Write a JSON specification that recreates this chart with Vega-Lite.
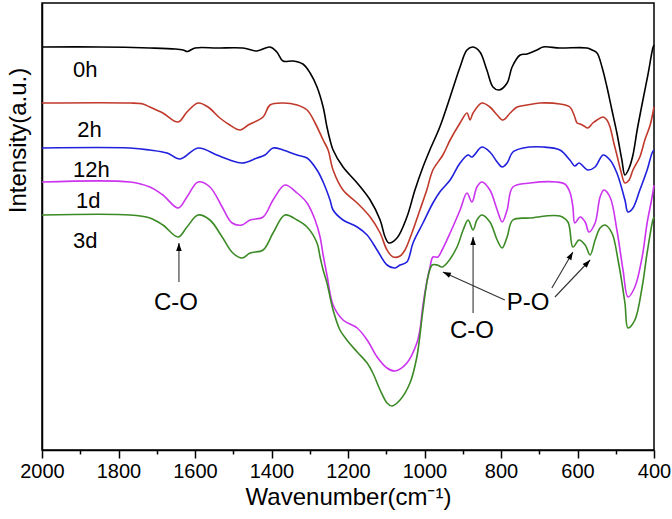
{
  "$schema": "https://vega.github.io/schema/vega-lite/v6.json",
  "width": 612,
  "height": 447,
  "autosize": {"type": "none"},
  "padding": {"left": 42, "right": 18, "top": 3, "bottom": 69},
  "background": "white",
  "config": {
    "font": "Liberation Sans",
    "view": {"stroke": "#000", "strokeWidth": 1.5},
    "axis": {"domainColor": "#000", "domainWidth": 1.5, "tickColor": "#000", "tickWidth": 1.5, "labelColor": "#000", "titleColor": "#000", "labelFont": "Liberation Sans", "titleFont": "Liberation Sans", "grid": false, "titleFontWeight": "normal"}
  },
  "datasets": {
    "spectra": [
      {"s":"0h","wn":2000,"y":403},{"s":"0h","wn":1848,"y":403},{"s":"0h","wn":1718,"y":402},{"s":"0h","wn":1652,"y":401},{"s":"0h","wn":1631,"y":400},{"s":"0h","wn":1620,"y":398.5},{"s":"0h","wn":1600,"y":402},{"s":"0h","wn":1542,"y":402},{"s":"0h","wn":1475,"y":402},{"s":"0h","wn":1438,"y":399},{"s":"0h","wn":1404,"y":403},{"s":"0h","wn":1386,"y":398},{"s":"0h","wn":1370,"y":389},{"s":"0h","wn":1344,"y":389},{"s":"0h","wn":1318,"y":386},{"s":"0h","wn":1299,"y":377},{"s":"0h","wn":1281,"y":363},{"s":"0h","wn":1265,"y":343},{"s":"0h","wn":1255,"y":323},{"s":"0h","wn":1247,"y":310},{"s":"0h","wn":1239,"y":300},{"s":"0h","wn":1213,"y":283},{"s":"0h","wn":1176,"y":267},{"s":"0h","wn":1142,"y":250},{"s":"0h","wn":1116,"y":230},{"s":"0h","wn":1103,"y":213},{"s":"0h","wn":1093,"y":207},{"s":"0h","wn":1072,"y":212},{"s":"0h","wn":1046,"y":233},{"s":"0h","wn":1025,"y":260},{"s":"0h","wn":1004,"y":283},{"s":"0h","wn":986,"y":300},{"s":"0h","wn":960,"y":323},{"s":"0h","wn":933,"y":353},{"s":"0h","wn":907,"y":383},{"s":"0h","wn":889,"y":400},{"s":"0h","wn":873,"y":403},{"s":"0h","wn":855,"y":398},{"s":"0h","wn":837,"y":380},{"s":"0h","wn":821,"y":363},{"s":"0h","wn":805,"y":360},{"s":"0h","wn":784,"y":367},{"s":"0h","wn":771,"y":383},{"s":"0h","wn":750,"y":395},{"s":"0h","wn":732,"y":396},{"s":"0h","wn":706,"y":400},{"s":"0h","wn":690,"y":403},{"s":"0h","wn":646,"y":402},{"s":"0h","wn":575,"y":402},{"s":"0h","wn":562,"y":400},{"s":"0h","wn":549,"y":397},{"s":"0h","wn":536,"y":383},{"s":"0h","wn":523,"y":363},{"s":"0h","wn":510,"y":340},{"s":"0h","wn":497,"y":317},{"s":"0h","wn":484,"y":290},{"s":"0h","wn":476,"y":275},{"s":"0h","wn":465,"y":282},{"s":"0h","wn":455,"y":295},{"s":"0h","wn":444,"y":320},{"s":"0h","wn":429,"y":350},{"s":"0h","wn":416,"y":375},{"s":"0h","wn":403,"y":402},{"s":"0h","wn":400,"y":405},
      {"s":"2h","wn":2000,"y":347},{"s":"2h","wn":1770,"y":347},{"s":"2h","wn":1736,"y":346},{"s":"2h","wn":1718,"y":343},{"s":"2h","wn":1684,"y":337},{"s":"2h","wn":1644,"y":328},{"s":"2h","wn":1621,"y":338},{"s":"2h","wn":1592,"y":347},{"s":"2h","wn":1566,"y":343},{"s":"2h","wn":1535,"y":332},{"s":"2h","wn":1509,"y":325},{"s":"2h","wn":1482,"y":320},{"s":"2h","wn":1461,"y":325},{"s":"2h","wn":1422,"y":333},{"s":"2h","wn":1404,"y":345},{"s":"2h","wn":1370,"y":347},{"s":"2h","wn":1333,"y":345},{"s":"2h","wn":1307,"y":340},{"s":"2h","wn":1286,"y":327},{"s":"2h","wn":1265,"y":310},{"s":"2h","wn":1252,"y":300},{"s":"2h","wn":1239,"y":280},{"s":"2h","wn":1213,"y":260},{"s":"2h","wn":1176,"y":247},{"s":"2h","wn":1142,"y":233},{"s":"2h","wn":1116,"y":217},{"s":"2h","wn":1098,"y":200},{"s":"2h","wn":1082,"y":193},{"s":"2h","wn":1064,"y":194},{"s":"2h","wn":1051,"y":200},{"s":"2h","wn":1033,"y":217},{"s":"2h","wn":1012,"y":240},{"s":"2h","wn":994,"y":260},{"s":"2h","wn":978,"y":280},{"s":"2h","wn":952,"y":295},{"s":"2h","wn":933,"y":310},{"s":"2h","wn":907,"y":327},{"s":"2h","wn":889,"y":337},{"s":"2h","wn":881,"y":330},{"s":"2h","wn":873,"y":337},{"s":"2h","wn":850,"y":347},{"s":"2h","wn":829,"y":343},{"s":"2h","wn":810,"y":335},{"s":"2h","wn":795,"y":330},{"s":"2h","wn":776,"y":337},{"s":"2h","wn":758,"y":343},{"s":"2h","wn":732,"y":345},{"s":"2h","wn":698,"y":347},{"s":"2h","wn":646,"y":346},{"s":"2h","wn":620,"y":343},{"s":"2h","wn":609,"y":335},{"s":"2h","wn":601,"y":327},{"s":"2h","wn":593,"y":326},{"s":"2h","wn":583,"y":324},{"s":"2h","wn":573,"y":322},{"s":"2h","wn":560,"y":327},{"s":"2h","wn":549,"y":330},{"s":"2h","wn":533,"y":333},{"s":"2h","wn":523,"y":330},{"s":"2h","wn":515,"y":323},{"s":"2h","wn":505,"y":307},{"s":"2h","wn":497,"y":295},{"s":"2h","wn":486,"y":278},{"s":"2h","wn":476,"y":267},{"s":"2h","wn":465,"y":270},{"s":"2h","wn":455,"y":280},{"s":"2h","wn":437,"y":293},{"s":"2h","wn":424,"y":310},{"s":"2h","wn":410,"y":325},{"s":"2h","wn":400,"y":343},
      {"s":"12h","wn":2000,"y":302},{"s":"12h","wn":1770,"y":302},{"s":"12h","wn":1718,"y":300},{"s":"12h","wn":1673,"y":297},{"s":"12h","wn":1639,"y":291},{"s":"12h","wn":1592,"y":302},{"s":"12h","wn":1543,"y":295},{"s":"12h","wn":1509,"y":290},{"s":"12h","wn":1477,"y":287},{"s":"12h","wn":1438,"y":292},{"s":"12h","wn":1417,"y":295},{"s":"12h","wn":1396,"y":302},{"s":"12h","wn":1370,"y":300},{"s":"12h","wn":1333,"y":295},{"s":"12h","wn":1307,"y":292},{"s":"12h","wn":1281,"y":280},{"s":"12h","wn":1265,"y":268},{"s":"12h","wn":1247,"y":250},{"s":"12h","wn":1239,"y":240},{"s":"12h","wn":1213,"y":230},{"s":"12h","wn":1176,"y":223},{"s":"12h","wn":1150,"y":215},{"s":"12h","wn":1124,"y":200},{"s":"12h","wn":1098,"y":185},{"s":"12h","wn":1077,"y":182},{"s":"12h","wn":1064,"y":185},{"s":"12h","wn":1046,"y":188},{"s":"12h","wn":1030,"y":207},{"s":"12h","wn":1004,"y":227},{"s":"12h","wn":978,"y":247},{"s":"12h","wn":960,"y":258},{"s":"12h","wn":933,"y":270},{"s":"12h","wn":907,"y":287},{"s":"12h","wn":886,"y":295},{"s":"12h","wn":876,"y":293},{"s":"12h","wn":850,"y":303},{"s":"12h","wn":829,"y":298},{"s":"12h","wn":810,"y":288},{"s":"12h","wn":797,"y":283},{"s":"12h","wn":784,"y":287},{"s":"12h","wn":769,"y":298},{"s":"12h","wn":742,"y":302},{"s":"12h","wn":690,"y":303},{"s":"12h","wn":646,"y":300},{"s":"12h","wn":620,"y":290},{"s":"12h","wn":607,"y":284},{"s":"12h","wn":596,"y":287},{"s":"12h","wn":573,"y":280},{"s":"12h","wn":554,"y":283},{"s":"12h","wn":533,"y":295},{"s":"12h","wn":515,"y":290},{"s":"12h","wn":497,"y":277},{"s":"12h","wn":476,"y":250},{"s":"12h","wn":468,"y":238},{"s":"12h","wn":455,"y":242},{"s":"12h","wn":437,"y":260},{"s":"12h","wn":418,"y":280},{"s":"12h","wn":405,"y":297},{"s":"12h","wn":400,"y":300},
      {"s":"1d","wn":2000,"y":268},{"s":"1d","wn":1770,"y":268},{"s":"1d","wn":1718,"y":263},{"s":"1d","wn":1684,"y":255},{"s":"1d","wn":1644,"y":242},{"s":"1d","wn":1621,"y":253},{"s":"1d","wn":1592,"y":268},{"s":"1d","wn":1561,"y":263},{"s":"1d","wn":1529,"y":243},{"s":"1d","wn":1503,"y":227},{"s":"1d","wn":1477,"y":225},{"s":"1d","wn":1456,"y":230},{"s":"1d","wn":1422,"y":233},{"s":"1d","wn":1396,"y":250},{"s":"1d","wn":1365,"y":265},{"s":"1d","wn":1333,"y":257},{"s":"1d","wn":1307,"y":247},{"s":"1d","wn":1286,"y":230},{"s":"1d","wn":1273,"y":213},{"s":"1d","wn":1265,"y":195},{"s":"1d","wn":1255,"y":175},{"s":"1d","wn":1239,"y":145},{"s":"1d","wn":1213,"y":130},{"s":"1d","wn":1176,"y":122},{"s":"1d","wn":1150,"y":110},{"s":"1d","wn":1124,"y":93},{"s":"1d","wn":1098,"y":82},{"s":"1d","wn":1077,"y":79},{"s":"1d","wn":1046,"y":87},{"s":"1d","wn":1020,"y":107},{"s":"1d","wn":1012,"y":120},{"s":"1d","wn":1004,"y":145},{"s":"1d","wn":993,"y":170},{"s":"1d","wn":986,"y":182},{"s":"1d","wn":978,"y":193},{"s":"1d","wn":965,"y":193},{"s":"1d","wn":954,"y":200},{"s":"1d","wn":933,"y":217},{"s":"1d","wn":907,"y":240},{"s":"1d","wn":889,"y":257},{"s":"1d","wn":876,"y":248},{"s":"1d","wn":863,"y":263},{"s":"1d","wn":850,"y":268},{"s":"1d","wn":829,"y":260},{"s":"1d","wn":810,"y":240},{"s":"1d","wn":797,"y":228},{"s":"1d","wn":784,"y":240},{"s":"1d","wn":769,"y":263},{"s":"1d","wn":724,"y":267},{"s":"1d","wn":654,"y":268},{"s":"1d","wn":633,"y":266},{"s":"1d","wn":620,"y":258},{"s":"1d","wn":612,"y":243},{"s":"1d","wn":607,"y":227},{"s":"1d","wn":593,"y":233},{"s":"1d","wn":580,"y":228},{"s":"1d","wn":570,"y":218},{"s":"1d","wn":554,"y":227},{"s":"1d","wn":541,"y":253},{"s":"1d","wn":531,"y":260},{"s":"1d","wn":515,"y":253},{"s":"1d","wn":497,"y":220},{"s":"1d","wn":481,"y":180},{"s":"1d","wn":468,"y":153},{"s":"1d","wn":450,"y":163},{"s":"1d","wn":431,"y":193},{"s":"1d","wn":418,"y":227},{"s":"1d","wn":405,"y":253},{"s":"1d","wn":400,"y":265},
      {"s":"3d","wn":2000,"y":235},{"s":"3d","wn":1770,"y":235},{"s":"3d","wn":1718,"y":232},{"s":"3d","wn":1684,"y":225},{"s":"3d","wn":1644,"y":213},{"s":"3d","wn":1621,"y":223},{"s":"3d","wn":1592,"y":235},{"s":"3d","wn":1561,"y":230},{"s":"3d","wn":1529,"y":213},{"s":"3d","wn":1501,"y":197},{"s":"3d","wn":1477,"y":192},{"s":"3d","wn":1456,"y":197},{"s":"3d","wn":1422,"y":200},{"s":"3d","wn":1396,"y":217},{"s":"3d","wn":1365,"y":235},{"s":"3d","wn":1333,"y":230},{"s":"3d","wn":1307,"y":223},{"s":"3d","wn":1281,"y":207},{"s":"3d","wn":1273,"y":193},{"s":"3d","wn":1265,"y":180},{"s":"3d","wn":1255,"y":167},{"s":"3d","wn":1239,"y":140},{"s":"3d","wn":1221,"y":120},{"s":"3d","wn":1203,"y":110},{"s":"3d","wn":1176,"y":98},{"s":"3d","wn":1150,"y":87},{"s":"3d","wn":1135,"y":77},{"s":"3d","wn":1116,"y":60},{"s":"3d","wn":1098,"y":47},{"s":"3d","wn":1085,"y":44},{"s":"3d","wn":1064,"y":50},{"s":"3d","wn":1038,"y":67},{"s":"3d","wn":1020,"y":93},{"s":"3d","wn":1004,"y":140},{"s":"3d","wn":991,"y":173},{"s":"3d","wn":980,"y":185},{"s":"3d","wn":967,"y":185},{"s":"3d","wn":954,"y":183},{"s":"3d","wn":941,"y":187},{"s":"3d","wn":915,"y":203},{"s":"3d","wn":899,"y":220},{"s":"3d","wn":886,"y":230},{"s":"3d","wn":873,"y":220},{"s":"3d","wn":863,"y":230},{"s":"3d","wn":850,"y":235},{"s":"3d","wn":829,"y":228},{"s":"3d","wn":810,"y":210},{"s":"3d","wn":797,"y":202},{"s":"3d","wn":784,"y":213},{"s":"3d","wn":769,"y":230},{"s":"3d","wn":724,"y":232},{"s":"3d","wn":646,"y":234},{"s":"3d","wn":625,"y":228},{"s":"3d","wn":612,"y":203},{"s":"3d","wn":596,"y":210},{"s":"3d","wn":580,"y":205},{"s":"3d","wn":567,"y":195},{"s":"3d","wn":554,"y":210},{"s":"3d","wn":541,"y":222},{"s":"3d","wn":528,"y":225},{"s":"3d","wn":510,"y":217},{"s":"3d","wn":494,"y":190},{"s":"3d","wn":476,"y":147},{"s":"3d","wn":468,"y":122},{"s":"3d","wn":450,"y":130},{"s":"3d","wn":431,"y":163},{"s":"3d","wn":418,"y":197},{"s":"3d","wn":403,"y":230},{"s":"3d","wn":400,"y":233}
    ],
    "labels": [
      {"label":"0h","wn":1919,"y":373},
      {"label":"2h","wn":1908,"y":313},
      {"label":"12h","wn":1919,"y":273},
      {"label":"1d","wn":1911,"y":242},
      {"label":"3d","wn":1919,"y":202}
    ],
    "notes": [
      {"label":"C-O","wn":1650,"y":140},
      {"label":"C-O","wn":876,"y":112},
      {"label":"P-O","wn":729,"y":140}
    ],
    "arrows": [
      {"id":"a1","wn":1642,"y":168,"wn2":1642,"y2":207},
      {"id":"a2","wn":873,"y":137,"wn2":873,"y2":213},
      {"id":"p1","wn":790,"y":150,"wn2":952,"y2":178},
      {"id":"p2","wn":667,"y":162,"wn2":612,"y2":198},
      {"id":"p3","wn":659,"y":153,"wn2":567,"y2":190}
    ],
    "heads": [
      {"id":"a1","wn":1642,"y":207},
      {"id":"a2","wn":873,"y":213},
      {"id":"p1","wn":952,"y":178},
      {"id":"p2","wn":612,"y":198},
      {"id":"p3","wn":567,"y":190}
    ]
  },
  "encoding": {
    "x": {
      "field": "wn", "type": "quantitative",
      "scale": {"domain": [400, 2000], "reverse": true, "nice": false, "zero": false},
      "axis": {
        "values": [400,500,600,700,800,900,1000,1100,1200,1300,1400,1500,1600,1700,1800,1900,2000],
        "format": "d",
        "labelExpr": "datum.value % 200 === 0 ? datum.label : ''",
        "tickSize": {"condition": {"test": "datum.value % 200 === 0", "value": 8}, "value": 4},
        "labelFontSize": 20,
        "labelPadding": 3,
        "labelFlush": false,
        "labelOverlap": false,
        "title": "Wavenumber(cm⁻¹)",
        "titleFontSize": 24,
        "titlePadding": 4
      }
    },
    "y": {
      "field": "y", "type": "quantitative",
      "scale": {"domain": [0, 447], "nice": false, "zero": false},
      "axis": {
        "labels": false, "ticks": false, "title": "Intensity(a.u.)",
        "titleFontSize": 24, "titleAngle": 270, "titleX": -12, "titleY": 137,
        "titleBaseline": "bottom", "titleAlign": "center"
      }
    }
  },
  "layer": [
    {
      "data": {"name": "spectra"},
      "mark": {"type": "line", "strokeWidth": 1.6, "interpolate": "catmull-rom"},
      "encoding": {
        "color": {"field": "s", "type": "nominal", "legend": null,
          "scale": {"domain": ["0h","2h","12h","1d","3d"], "range": ["#000000","#c0392b","#2020dd","#cc33ee","#3b8a25"]}}
      }
    },
    {
      "data": {"name": "labels"},
      "mark": {"type": "text", "align": "left", "baseline": "alphabetic", "fontSize": 22, "color": "#000"},
      "encoding": {"text": {"field": "label"}}
    },
    {
      "data": {"name": "notes"},
      "mark": {"type": "text", "align": "center", "baseline": "alphabetic", "fontSize": 24, "color": "#000"},
      "encoding": {"text": {"field": "label"}}
    },
    {
      "data": {"name": "arrows"},
      "mark": {"type": "rule", "color": "#333", "strokeWidth": 1.1},
      "encoding": {"x2": {"field": "wn2"}, "y2": {"field": "y2"}}
    },
    {
      "data": {"name": "heads"},
      "transform": [{"filter": "datum.id === 'a1' || datum.id === 'a2'"}],
      "mark": {"type": "point", "shape": "M0,0L-0.35,1L0.35,1Z", "size": 256, "filled": true, "color": "#000", "opacity": 1, "angle": 0}
    },
    {
      "data": {"name": "heads"},
      "transform": [{"filter": "datum.id === 'p1'"}],
      "mark": {"type": "point", "shape": "M0,0L-0.35,1L0.35,1Z", "size": 256, "filled": true, "color": "#000", "opacity": 1, "angle": 294}
    },
    {
      "data": {"name": "heads"},
      "transform": [{"filter": "datum.id === 'p2'"}],
      "mark": {"type": "point", "shape": "M0,0L-0.35,1L0.35,1Z", "size": 256, "filled": true, "color": "#000", "opacity": 1, "angle": 30}
    },
    {
      "data": {"name": "heads"},
      "transform": [{"filter": "datum.id === 'p3'"}],
      "mark": {"type": "point", "shape": "M0,0L-0.35,1L0.35,1Z", "size": 256, "filled": true, "color": "#000", "opacity": 1, "angle": 43}
    }
  ]
}
